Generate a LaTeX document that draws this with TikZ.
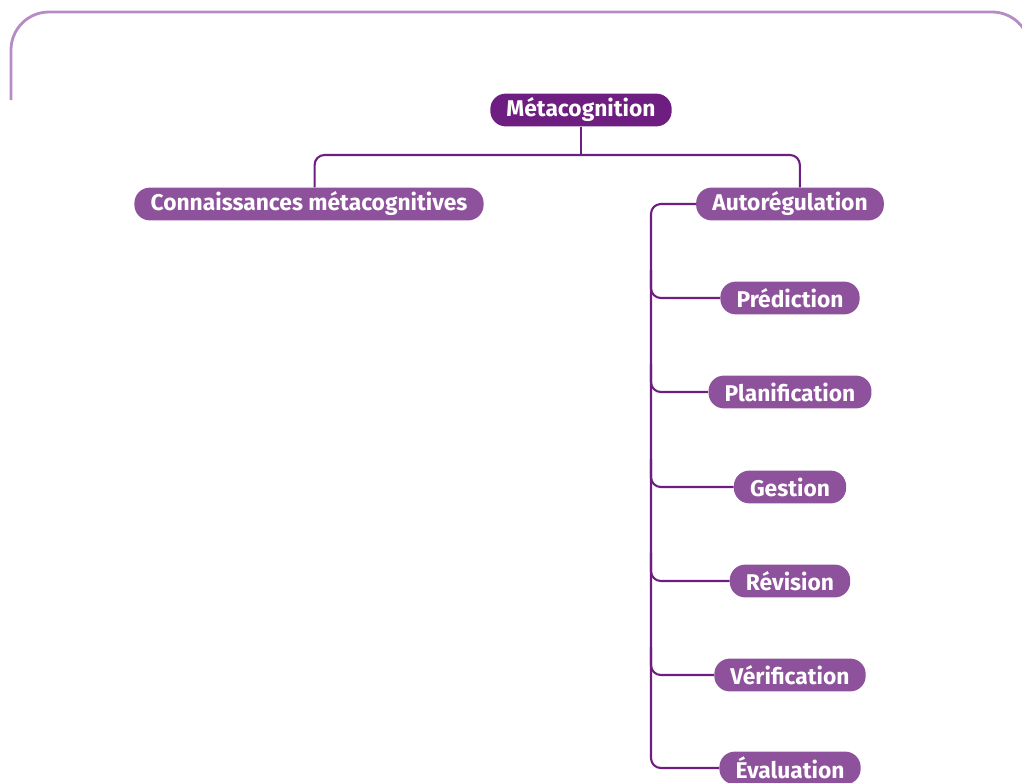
\documentclass[tikz,border=0pt]{standalone}
\usepackage{fontspec}
\setmainfont{Fira Sans}
\definecolor{DarkPurple}{HTML}{6E1E80}
\definecolor{MidPurple}{HTML}{8E519B}
\definecolor{FramePurple}{HTML}{B58CC5}
\begin{document}
\begin{tikzpicture}[x=0.025cm,y=-0.025cm,
	every node/.style={text=white, font=\bfseries\fontsize{16.2}{18}\selectfont, rounded corners=11pt, minimum height=0.82cm, inner xsep=11.5pt, inner ysep=0pt},
	root/.style={fill=DarkPurple},
	leaf/.style={fill=MidPurple},
	link/.style={draw=DarkPurple, line width=1.5pt, rounded corners=7pt}]
%----------------------------------------------------------
	% Frame
	%------------------------------------------------------
	\useasboundingbox (0,0) rectangle (1022,783);
	\clip (0,0) rectangle (1022,783);
	\draw[FramePurple, line width=2pt, rounded corners=27pt] (11,100) -- (11,12) -- (1030,12) -- (1030,100);

	% Nodes
	%------------------------------------------------------
	\node[root] (Meta) at (581,110) {Métacognition};
	\node[leaf] (Conn) at (309,204) {Connaissances métacognitives};
	\node[leaf] (Auto) at (790,204) {Autorégulation};
	\node[leaf] (Pred) at (790,298) {Prédiction};
	\node[leaf] (Plan) at (790,392) {Planification};
	\node[leaf] (Gest) at (790,487) {Gestion};
	\node[leaf] (Revi) at (790,581) {Révision};
	\node[leaf] (Veri) at (790,675) {Vérification};
	\node[leaf] (Eval) at (790,768) {Évaluation};

	\coordinate (Split) at (581,155);
	\coordinate (TrunkTop) at (651,204);
	\coordinate (TrunkBot) at (651,768);

	% Lines
	%------------------------------------------------------
	\draw[link] (Meta.south) -- (Split);
	\draw[link] ([xshift=4]Conn.north) |- (Split) -| ([xshift=7]Auto.north);
	\draw[link] (Auto.west) -- (TrunkTop) -- (TrunkBot) -- (Eval.west);
	\draw[link] (651,270) |- (Pred.west);
	\draw[link] (651,364) |- (Plan.west);
	\draw[link] (651,459) |- (Gest.west);
	\draw[link] (651,553) |- (Revi.west);
	\draw[link] (651,647) |- (Veri.west);
\end{tikzpicture}
\end{document}
